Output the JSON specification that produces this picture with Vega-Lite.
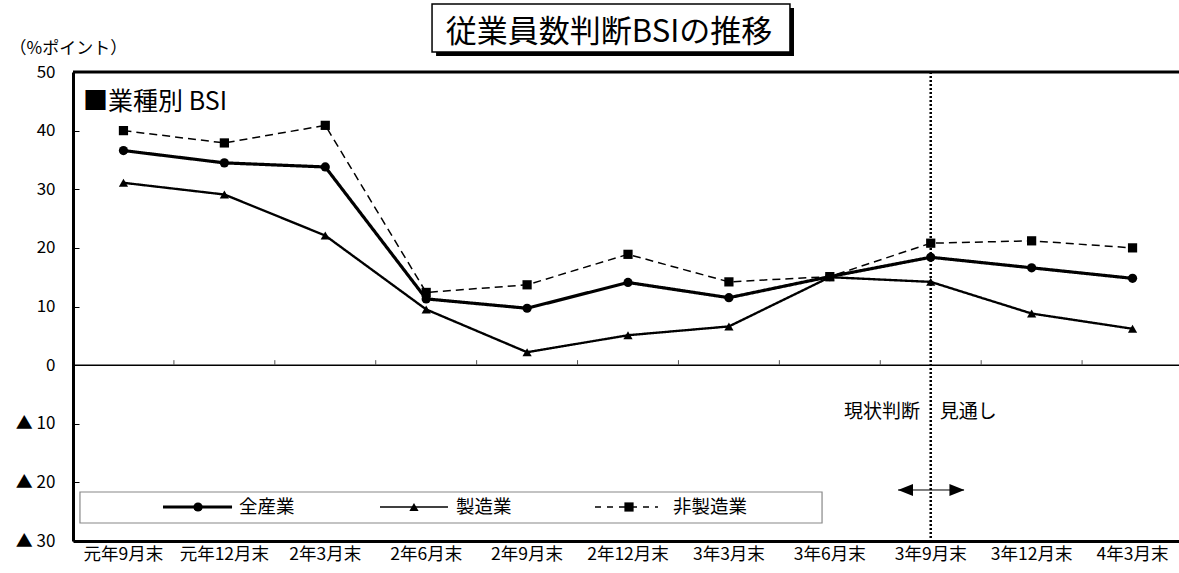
{
  "$schema": "https://vega.github.io/schema/vega-lite/v6.json",
  "width": 1106,
  "height": 469,
  "autosize": {"type": "none"},
  "padding": {"left": 73, "top": 72, "right": 0, "bottom": 32},
  "background": "white",
  "config": {"view": {"stroke": null}, "font": "Noto Sans CJK JP"},
  "datasets": {
    "bsi": [
      {"period": "元年9月末", "series": "全産業", "value": 36.6},
      {"period": "元年12月末", "series": "全産業", "value": 34.5},
      {"period": "2年3月末", "series": "全産業", "value": 33.8},
      {"period": "2年6月末", "series": "全産業", "value": 11.3},
      {"period": "2年9月末", "series": "全産業", "value": 9.7},
      {"period": "2年12月末", "series": "全産業", "value": 14.1},
      {"period": "3年3月末", "series": "全産業", "value": 11.5},
      {"period": "3年6月末", "series": "全産業", "value": 15.1},
      {"period": "3年9月末", "series": "全産業", "value": 18.4},
      {"period": "3年12月末", "series": "全産業", "value": 16.6},
      {"period": "4年3月末", "series": "全産業", "value": 14.8},
      {"period": "元年9月末", "series": "製造業", "value": 31.1},
      {"period": "元年12月末", "series": "製造業", "value": 29.1},
      {"period": "2年3月末", "series": "製造業", "value": 22.1},
      {"period": "2年6月末", "series": "製造業", "value": 9.5},
      {"period": "2年9月末", "series": "製造業", "value": 2.2},
      {"period": "2年12月末", "series": "製造業", "value": 5.1},
      {"period": "3年3月末", "series": "製造業", "value": 6.6},
      {"period": "3年6月末", "series": "製造業", "value": 15.0},
      {"period": "3年9月末", "series": "製造業", "value": 14.2},
      {"period": "3年12月末", "series": "製造業", "value": 8.8},
      {"period": "4年3月末", "series": "製造業", "value": 6.2},
      {"period": "元年9月末", "series": "非製造業", "value": 40.0},
      {"period": "元年12月末", "series": "非製造業", "value": 37.9},
      {"period": "2年3月末", "series": "非製造業", "value": 40.9},
      {"period": "2年6月末", "series": "非製造業", "value": 12.4},
      {"period": "2年9月末", "series": "非製造業", "value": 13.7},
      {"period": "2年12月末", "series": "非製造業", "value": 18.9},
      {"period": "3年3月末", "series": "非製造業", "value": 14.2},
      {"period": "3年6月末", "series": "非製造業", "value": 15.1},
      {"period": "3年9月末", "series": "非製造業", "value": 20.8},
      {"period": "3年12月末", "series": "非製造業", "value": 21.2},
      {"period": "4年3月末", "series": "非製造業", "value": 20.0}
    ]
  },
  "data": {"name": "bsi"},
  "layer": [
    {
      "data": {"values": [{}]},
      "mark": {"type": "rect", "fill": "white", "stroke": "#888", "strokeWidth": 1.2},
      "encoding": {
        "x": {"datum": "元年9月末", "type": "nominal", "bandPosition": 0.069},
        "x2": {"datum": "3年6月末", "bandPosition": 0.423},
        "y": {"datum": -21.64, "type": "quantitative"},
        "y2": {"datum": -26.93}
      }
    },
    {
      "data": {"values": [{}]},
      "mark": {"type": "rule", "stroke": "black", "strokeWidth": 1.5},
      "encoding": {"y": {"datum": 0, "type": "quantitative"}}
    },
    {
      "transform": [{"filter": "datum.series === '全産業' && datum.period !== '元年9月末'"}],
      "mark": {"type": "rule", "stroke": "#555", "strokeWidth": 1},
      "encoding": {
        "x": {"field": "period", "type": "nominal", "bandPosition": 0},
        "y": {"datum": 0, "type": "quantitative"},
        "y2": {"datum": 0.85}
      }
    },
    {
      "data": {"values": [{}]},
      "mark": {"type": "rule", "stroke": "black", "strokeWidth": 3},
      "encoding": {"y": {"datum": 50, "type": "quantitative"}}
    },
    {
      "data": {"values": [{}]},
      "mark": {"type": "rule", "stroke": "black", "strokeWidth": 2.5, "strokeDash": [2, 2]},
      "encoding": {
        "x": {"datum": "3年9月末", "type": "nominal"},
        "y": {"datum": 50, "type": "quantitative"},
        "y2": {"datum": -30}
      }
    },
    {
      "mark": {"type": "line", "color": "black"},
      "encoding": {
        "x": {
          "field": "period",
          "type": "nominal",
          "sort": null,
          "scale": {
            "type": "band",
            "paddingInner": 0,
            "paddingOuter": 0,
            "range": [0, 1110],
            "domain": ["元年9月末", "元年12月末", "2年3月末", "2年6月末", "2年9月末", "2年12月末", "3年3月末", "3年6月末", "3年9月末", "3年12月末", "4年3月末"]
          },
          "axis": {
            "orient": "bottom",
            "title": null,
            "labelAngle": 0,
            "labelAlign": "center",
            "labelBaseline": "top",
            "ticks": false,
            "domain": true,
            "domainColor": "black",
            "domainWidth": 3,
            "labelPadding": 4,
            "labelFont": "Noto Sans CJK JP",
            "labelFontSize": 17.5,
            "labelColor": "black",
            "grid": false
          }
        },
        "y": {
          "field": "value",
          "type": "quantitative",
          "scale": {"domain": [-30, 50], "nice": false, "zero": false},
          "axis": {
            "values": [-30, -20, -10, 0, 10, 20, 30, 40, 50],
            "labelExpr": "datum.value < 0 ? '▲  ' + (-datum.value) : '' + datum.value",
            "grid": false,
            "domain": true,
            "domainColor": "black",
            "domainWidth": 3,
            "ticks": true,
            "tickSize": -6,
            "tickColor": "black",
            "tickWidth": 1,
            "labelPadding": 24,
            "labelFont": "Noto Sans CJK JP",
            "labelFontSize": 17,
            "labelColor": "black",
            "title": "（%ポイント）",
            "titleAngle": 0,
            "titleAlign": "left",
            "titleBaseline": "middle",
            "titleX": -64,
            "titleY": -24,
            "titleFont": "Noto Sans CJK JP",
            "titleFontSize": 17,
            "titleFontWeight": "normal",
            "titleColor": "black"
          }
        },
        "strokeDash": {
          "field": "series",
          "type": "nominal",
          "scale": {"domain": ["全産業", "製造業", "非製造業"], "range": [[1, 0], [1, 0], [8, 5]]},
          "legend": null
        },
        "strokeWidth": {
          "field": "series",
          "type": "nominal",
          "scale": {"domain": ["全産業", "製造業", "非製造業"], "range": [3.2, 1.5, 1.5]},
          "legend": null
        }
      }
    },
    {
      "mark": {"type": "point", "filled": true, "color": "black", "opacity": 1, "size": 85},
      "encoding": {
        "x": {"field": "period", "type": "nominal"},
        "y": {"field": "value", "type": "quantitative"},
        "shape": {
          "field": "series",
          "type": "nominal",
          "scale": {"domain": ["全産業", "製造業", "非製造業"], "range": ["circle", "triangle-up", "square"]},
          "legend": null
        }
      }
    },
    {
      "data": {"values": [{}]},
      "mark": {"type": "rule", "stroke": "black", "strokeWidth": 3},
      "encoding": {
        "x": {"datum": "元年9月末", "type": "nominal", "bandPosition": 0.892},
        "x2": {"datum": "元年12月末", "bandPosition": 0.576},
        "y": {"datum": -24.2, "type": "quantitative"}
      }
    },
    {
      "data": {"values": [{}]},
      "mark": {"type": "point", "shape": "circle", "filled": true, "color": "black", "opacity": 1, "size": 85},
      "encoding": {
        "x": {"datum": "元年12月末", "type": "nominal", "bandPosition": 0.239},
        "y": {"datum": -24.2, "type": "quantitative"}
      }
    },
    {
      "data": {"values": [{"series": "全産業"}]},
      "mark": {"type": "text", "font": "Noto Sans CJK JP", "fontSize": 18.5, "align": "left", "baseline": "middle", "color": "black"},
      "encoding": {
        "text": {"field": "series"},
        "x": {"datum": "元年12月末", "type": "nominal", "bandPosition": 0.645},
        "y": {"datum": -24.2, "type": "quantitative"}
      }
    },
    {
      "data": {"values": [{}]},
      "mark": {"type": "rule", "stroke": "black", "strokeWidth": 1.5},
      "encoding": {
        "x": {"datum": "2年6月末", "type": "nominal", "bandPosition": 0.042},
        "x2": {"datum": "2年6月末", "bandPosition": 0.716},
        "y": {"datum": -24.2, "type": "quantitative"}
      }
    },
    {
      "data": {"values": [{}]},
      "mark": {"type": "point", "shape": "triangle-up", "filled": true, "color": "black", "opacity": 1, "size": 85},
      "encoding": {
        "x": {"datum": "2年6月末", "type": "nominal", "bandPosition": 0.379},
        "y": {"datum": -24.2, "type": "quantitative"}
      }
    },
    {
      "data": {"values": [{"series": "製造業"}]},
      "mark": {"type": "text", "font": "Noto Sans CJK JP", "fontSize": 18.5, "align": "left", "baseline": "middle", "color": "black"},
      "encoding": {
        "text": {"field": "series"},
        "x": {"datum": "2年6月末", "type": "nominal", "bandPosition": 0.796},
        "y": {"datum": -24.2, "type": "quantitative"}
      }
    },
    {
      "data": {"values": [{}]},
      "mark": {"type": "rule", "stroke": "black", "strokeWidth": 1.5, "strokeDash": [6, 6]},
      "encoding": {
        "x": {"datum": "2年12月末", "type": "nominal", "bandPosition": 0.173},
        "x2": {"datum": "2年12月末", "bandPosition": 0.797},
        "y": {"datum": -24.2, "type": "quantitative"}
      }
    },
    {
      "data": {"values": [{}]},
      "mark": {"type": "point", "shape": "square", "filled": true, "color": "black", "opacity": 1, "size": 85},
      "encoding": {
        "x": {"datum": "2年12月末", "type": "nominal", "bandPosition": 0.51},
        "y": {"datum": -24.2, "type": "quantitative"}
      }
    },
    {
      "data": {"values": [{"series": "非製造業"}]},
      "mark": {"type": "text", "font": "Noto Sans CJK JP", "fontSize": 18.5, "align": "left", "baseline": "middle", "color": "black"},
      "encoding": {
        "text": {"field": "series"},
        "x": {"datum": "2年12月末", "type": "nominal", "bandPosition": 0.946},
        "y": {"datum": -24.2, "type": "quantitative"}
      }
    },
    {
      "data": {"values": [{}]},
      "mark": {"type": "rect", "fill": "black"},
      "encoding": {
        "x": {"datum": "2年6月末", "type": "nominal", "bandPosition": 0.598},
        "x2": {"datum": "3年6月末", "bandPosition": 0.145},
        "y": {"datum": 60.92, "type": "quantitative"},
        "y2": {"datum": 52.73}
      }
    },
    {
      "data": {"values": [{}]},
      "mark": {"type": "rect", "fill": "white", "stroke": "black", "strokeWidth": 1.5},
      "encoding": {
        "x": {"datum": "2年6月末", "type": "nominal", "bandPosition": 0.558},
        "x2": {"datum": "3年6月末", "bandPosition": 0.105},
        "y": {"datum": 61.6, "type": "quantitative"},
        "y2": {"datum": 53.41}
      }
    },
    {
      "data": {"values": [{}]},
      "mark": {"type": "text", "text": "従業員数判断BSIの推移", "font": "Noto Sans CJK JP", "fontSize": 31, "align": "center", "baseline": "middle", "color": "black"},
      "encoding": {
        "x": {"datum": "2年12月末", "type": "nominal", "bandPosition": 0.312},
        "y": {"datum": 56.57, "type": "quantitative"}
      }
    },
    {
      "data": {"values": [{}]},
      "mark": {"type": "text", "text": "■業種別 BSI", "font": "Noto Sans CJK JP", "fontSize": 25, "align": "left", "baseline": "middle", "color": "black"},
      "encoding": {
        "x": {"datum": "元年9月末", "type": "nominal", "bandPosition": 0.1},
        "y": {"datum": 44.9, "type": "quantitative"}
      }
    },
    {
      "data": {"values": [{}]},
      "mark": {"type": "text", "text": "現状判断", "font": "Noto Sans CJK JP", "fontSize": 19, "align": "right", "baseline": "middle", "color": "black"},
      "encoding": {
        "x": {"datum": "3年9月末", "type": "nominal", "bandPosition": 0.394},
        "y": {"datum": -8.0, "type": "quantitative"}
      }
    },
    {
      "data": {"values": [{}]},
      "mark": {"type": "text", "text": "見通し", "font": "Noto Sans CJK JP", "fontSize": 19, "align": "left", "baseline": "middle", "color": "black"},
      "encoding": {
        "x": {"datum": "3年9月末", "type": "nominal", "bandPosition": 0.59},
        "y": {"datum": -8.0, "type": "quantitative"}
      }
    },
    {
      "data": {"values": [{}]},
      "mark": {"type": "rule", "stroke": "black", "strokeWidth": 1},
      "encoding": {
        "x": {"datum": "3年9月末", "type": "nominal", "bandPosition": 0.176},
        "x2": {"datum": "3年9月末", "bandPosition": 0.83},
        "y": {"datum": -21.3, "type": "quantitative"}
      }
    },
    {
      "data": {"values": [{}]},
      "mark": {"type": "point", "filled": true, "color": "black", "opacity": 1, "size": 225, "shape": "M-1,0L1,-0.8L1,0.8Z"},
      "encoding": {
        "x": {"datum": "3年9月末", "type": "nominal", "bandPosition": 0.25},
        "y": {"datum": -21.3, "type": "quantitative"}
      }
    },
    {
      "data": {"values": [{}]},
      "mark": {"type": "point", "filled": true, "color": "black", "opacity": 1, "size": 225, "shape": "M1,0L-1,-0.8L-1,0.8Z"},
      "encoding": {
        "x": {"datum": "3年9月末", "type": "nominal", "bandPosition": 0.76},
        "y": {"datum": -21.3, "type": "quantitative"}
      }
    }
  ]
}
